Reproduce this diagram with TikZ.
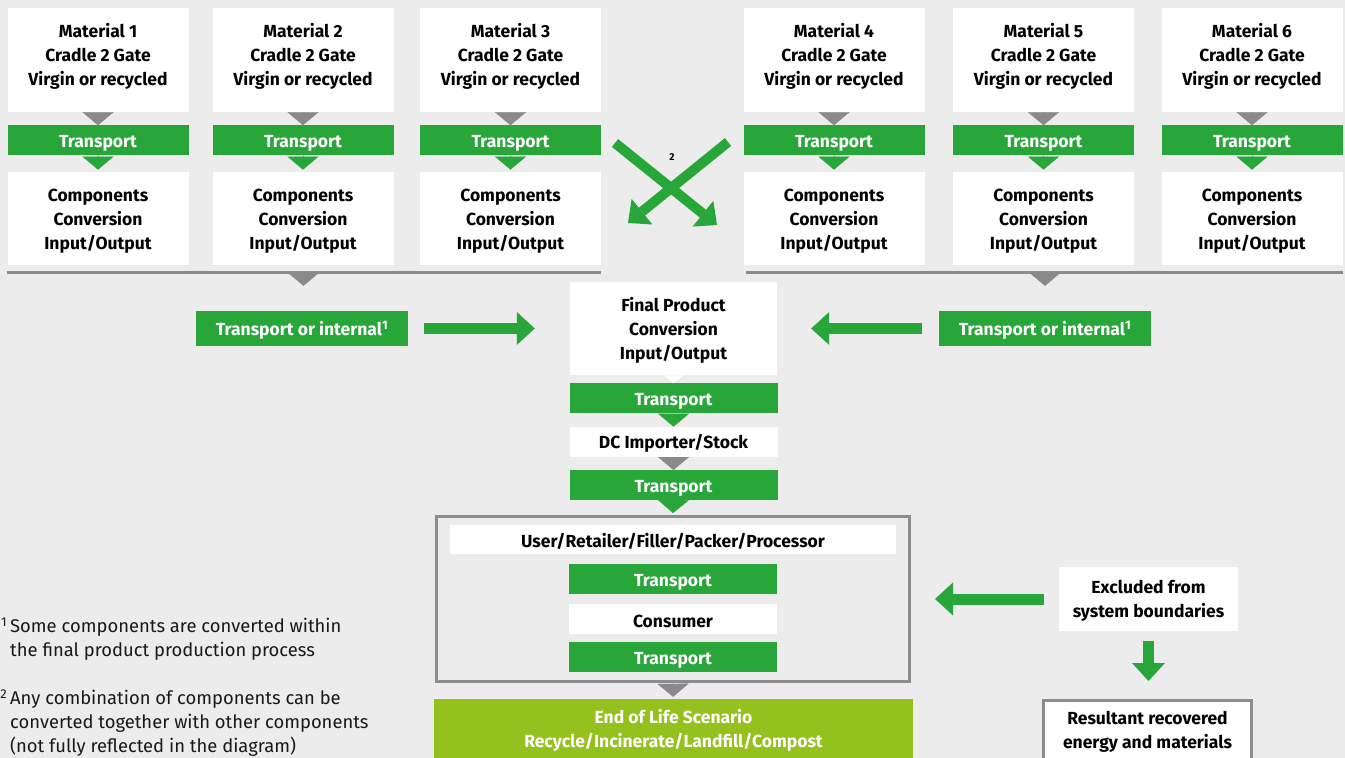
\documentclass[tikz,border=0pt]{standalone}
\usepackage{fontspec}
\setmainfont{Fira Sans}
\usetikzlibrary{positioning,arrows.meta}
\definecolor{grn}{RGB}{40,166,58}
\definecolor{lime}{RGB}{149,193,31}
\definecolor{tipgray}{RGB}{138,138,138}
\definecolor{framegray}{RGB}{140,140,140}
\definecolor{bgc}{RGB}{236,236,236}

\tikzset{
  box/.style={fill=white, text=black, minimum width=181pt, minimum height=30pt, align=center, inner sep=2pt,
    execute at begin node={\rule{0pt}{17.5pt}}},
  mlbox/.style={box, execute at begin node={\rule{0pt}{#1}}},
  matbox/.style={box, minimum height=104pt, execute at end node={\rule[-11pt]{0pt}{0pt}}},
  compbox/.style={mlbox=66.5pt, minimum height=93pt},
  trbox/.style={box, fill=grn, text=white},
  graytip/.style={draw=tipgray, line width=0.1pt, -{Triangle[length=13pt,width=31pt,color=tipgray]}},
  greentip/.style={draw=grn, line width=0.1pt, -{Triangle[length=13pt,width=31pt,color=grn]}},
  bigarrow/.style={draw=grn, line width=11pt, -{Triangle[length=18pt,width=33pt,line width=0pt]}},
  sepline/.style={draw=framegray, line width=3pt},
  fnote/.style={font=\fontsize{18.4}{24}\selectfont\mdseries, text=black!90, align=left, inner sep=0pt}
}

\begin{document}
\begin{tikzpicture}[x=1pt, y=-1pt, font=\fontsize{17.5}{24}\selectfont\bfseries]
  \clip (0,0) rectangle (1345,758);
  \fill[bgc] (0,0) rectangle (1345,758);

  % materials, transport, components
  \node[matbox] (m1) at (98,60) {Material 1\\Cradle 2 Gate\\Virgin or recycled};
  \node[trbox, below=13pt of m1] (t1) {Transport};
  \node[compbox, below=16pt of t1] (k1) {Components\\Conversion\\Input/Output};
  \node[matbox] (m2) at (303,60) {Material 2\\Cradle 2 Gate\\Virgin or recycled};
  \node[trbox, below=13pt of m2] (t2) {Transport};
  \node[compbox, below=16pt of t2] (k2) {Components\\Conversion\\Input/Output};
  \node[matbox] (m3) at (510.5,60) {Material 3\\Cradle 2 Gate\\Virgin or recycled};
  \node[trbox, below=13pt of m3] (t3) {Transport};
  \node[compbox, below=16pt of t3] (k3) {Components\\Conversion\\Input/Output};
  \node[matbox] (m4) at (834,60) {Material 4\\Cradle 2 Gate\\Virgin or recycled};
  \node[trbox, below=13pt of m4] (t4) {Transport};
  \node[compbox, below=16pt of t4] (k4) {Components\\Conversion\\Input/Output};
  \node[matbox] (m5) at (1043.5,60) {Material 5\\Cradle 2 Gate\\Virgin or recycled};
  \node[trbox, below=13pt of m5] (t5) {Transport};
  \node[compbox, below=16pt of t5] (k5) {Components\\Conversion\\Input/Output};
  \node[matbox] (m6) at (1252,60) {Material 6\\Cradle 2 Gate\\Virgin or recycled};
  \node[trbox, below=13pt of m6] (t6) {Transport};
  \node[compbox, below=16pt of t6] (k6) {Components\\Conversion\\Input/Output};
  \draw[graytip] (m1) -- (t1); \draw[greentip, shorten >=2pt] (t1) -- (k1);
  \draw[graytip] (m2) -- (t2); \draw[greentip, shorten >=2pt] (t2) -- (k2);
  \draw[graytip] (m3) -- (t3); \draw[greentip, shorten >=2pt] (t3) -- (k3);
  \draw[graytip] (m4) -- (t4); \draw[greentip, shorten >=2pt] (t4) -- (k4);
  \draw[graytip] (m5) -- (t5); \draw[greentip, shorten >=2pt] (t5) -- (k5);
  \draw[graytip] (m6) -- (t6); \draw[greentip, shorten >=2pt] (t6) -- (k6);

  % crossing arrows
  \coordinate (xa) at (728,142); \coordinate (xb) at (628,223);
  \coordinate (xc) at (615,143); \coordinate (xd) at (717,225);
  \draw[bigarrow, line width=10pt] (xa) -- (xb);
  \draw[bigarrow, line width=10pt] (xc) -- (xd);
  \node[font=\fontsize{10}{12}\selectfont\bfseries] (two) at (672,157) {2};

  % final product column
  \node[mlbox=65pt, minimum width=207pt, minimum height=93pt] (fp) at (673.5,328.5) {Final Product\\Conversion\\Input/Output};
  \node[trbox, minimum width=208pt, below=8pt of fp] (fpt) {Transport};
  \node[box, minimum width=208pt, below=13pt of fpt] (dc) {DC Importer/Stock};
  \node[trbox, minimum width=208pt, below=13pt of dc] (dct) {Transport};
  \node[draw=framegray, line width=3pt, minimum width=473pt, minimum height=165pt] (sysb) at (673,599) {};
  \node[box, minimum width=446pt, minimum height=29pt] (usr) at (673,539.5) {User/Retailer/Filler/Packer/Processor};
  \node[trbox, minimum width=208pt, below=10pt of usr] (ut1) {Transport};
  \node[box, minimum width=208pt, below=9pt of ut1] (cons) {Consumer};
  \node[trbox, minimum width=208pt, below=8pt of cons] (ut2) {Transport};
  \node[mlbox=39pt, fill=lime, text=white, minimum width=479pt, minimum height=62pt] (eol) at (673.5,730) {End of Life Scenario\\Recycle/Incinerate/Landfill/Compost};
  \draw[draw=white, line width=0.1pt, -{Triangle[length=8pt,width=20pt,color=white]}] (fp) -- (fpt);
  \draw[greentip] (fpt) -- (dc);
  \draw[graytip] (dc) -- (dct);
  \draw[greentip, shorten >=2pt] (dct) -- (sysb.north);
  \draw[graytip, shorten >=2pt] (sysb.south) -- (eol);

  % collecting lines and side transport
  \draw[sepline] ([yshift=-7.5pt]k1.south west) -- ([yshift=-7.5pt]k3.south east);
  \draw[sepline] ([yshift=-7.5pt,xshift=3pt]k4.south west) -- ([yshift=-7.5pt]k6.south east);
  \node[trbox, minimum width=212pt, minimum height=35pt] (ltr) at (302,328.5) {Transport or internal\textsuperscript{1}};
  \node[trbox, minimum width=212pt, minimum height=35pt] (rtr) at (1045,328.5) {Transport or internal\textsuperscript{1}};
  \coordinate (sl) at (303.5,273); \coordinate (sr) at (1045,273);
  \draw[graytip, shorten >=25pt] (sl) -- (sl |- ltr.north);
  \draw[graytip, shorten >=25pt] (sr) -- (sr |- rtr.north);
  \draw[bigarrow, shorten <=16pt, shorten >=35pt] (ltr.east) -- (fp.west);
  \draw[bigarrow, shorten <=17pt, shorten >=34pt] (rtr.west) -- (fp.east);

  % outside the system
  \node[mlbox=41pt, minimum width=179pt, minimum height=64pt] (excl) at (1148.5,599) {Excluded from\\system boundaries};
  \node[mlbox=41pt, draw=framegray, line width=3pt, minimum width=208pt, minimum height=59pt] (res) at (1147.5,730) {Resultant recovered\\energy and materials};
  \draw[bigarrow, shorten <=15pt, shorten >=24pt] (excl.west) -- (sysb.east);
  \draw[bigarrow, shorten <=10pt, shorten >=18pt] (excl.south) -- (excl.south |- res.north);

  % footnotes
  \node[fnote, anchor=west] (fn1) at (10,639) {\llap{\textsuperscript{1}\,}Some components are converted within\\the final product production process};
  \node[fnote, anchor=west] (fn2) at (10,723) {\llap{\textsuperscript{2}\,}Any combination of components can be\\converted together with other components\\(not fully reflected in the diagram)};
\end{tikzpicture}
\end{document}
